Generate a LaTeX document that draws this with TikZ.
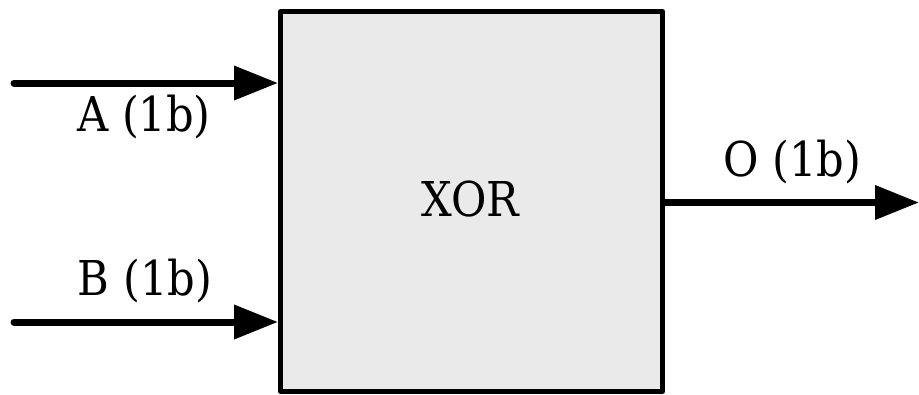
\documentclass[tikz,border=0pt]{standalone}
\usepackage{fontspec}
\setmainfont{DejaVu Serif Condensed}
\usetikzlibrary{arrows.meta}
\definecolor{boxfill}{HTML}{EAEAEA}
\tikzset{
  gatebox/.style={draw=black, line width=5pt, line join=round, fill=boxfill, minimum width=382pt, minimum height=380pt, inner sep=0pt},
  wire/.style={line width=7pt, line cap=round, -{Triangle[length=44pt,width=33pt]}},
  lbl/.style={anchor=base, inner sep=0pt, font=\fontsize{48}{58}\selectfont}
}
\begin{document}
\begin{tikzpicture}[x=1pt,y=-1pt]
\useasboundingbox (0,0) rectangle (919,394);
\node[gatebox] (box) at (471.5,201.5) {};
\node[lbl] (xor) at (470,216.5) {XOR};
\coordinate (ain) at (14,83);
\coordinate (bin) at (14,322);
\coordinate (oout) at (919,202.5);
\draw[wire] (ain) -- (ain -| box.west);
\draw[wire] (bin) -- (bin -| box.west);
\draw[wire, line cap=butt] (oout -| box.east) -- (oout);
\node[lbl] (alab) at (144,131.5) {A (1b)};
\node[lbl] (blab) at (145,295) {B (1b)};
\node[lbl] (olab) at (792.5,176.5) {O (1b)};
\end{tikzpicture}
\end{document}
